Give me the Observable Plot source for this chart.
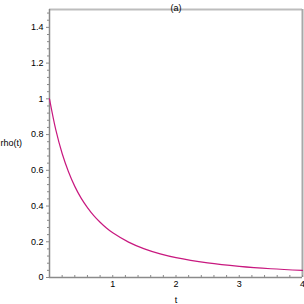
<!DOCTYPE html>
<html>
<head>
<meta charset="utf-8">
<script src="https://cdn.jsdelivr.net/npm/d3@7"></script>
<script src="https://cdn.jsdelivr.net/npm/@observablehq/plot@0.6"></script>
<style>
  html, body { margin: 0; padding: 0; background: #fff; }
  svg { display: block; }
</style>
</head>
<body>
<div id="chart"></div>
<script>
// Values
const tValues   = [0, 0.1, 0.2, 0.3, 0.4, 0.5, 0.6, 0.7, 0.8, 0.9, 1.0, 1.25, 1.5, 1.75, 2.0, 2.5, 3.0, 3.5, 4.0];
const rhoValues = [1.0, 0.826, 0.694, 0.592, 0.51, 0.444, 0.391, 0.346, 0.309, 0.277, 0.25, 0.198, 0.16, 0.132, 0.111, 0.082, 0.0625, 0.049, 0.04];

const xMajorTicks = [1, 2, 3, 4];
const xMinorTicks = [0.2, 0.4, 0.6, 0.8, 1.2, 1.4, 1.6, 1.8, 2.2, 2.4, 2.6, 2.8, 3.2, 3.4, 3.6, 3.8];
const yMajorTicks = [0, 0.2, 0.4, 0.6, 0.8, 1, 1.2, 1.4];
const yMajorLabels = ["0", "0.2", "0.4", "0.6", "0.8", "1", "1.2", "1.4"];
const yMinorTicks = [0.04, 0.08, 0.12, 0.16, 0.24, 0.28, 0.32, 0.36, 0.44, 0.48, 0.52, 0.56, 0.64, 0.68, 0.72, 0.76,
                     0.84, 0.88, 0.92, 0.96, 1.04, 1.08, 1.12, 1.16, 1.24, 1.28, 1.32, 1.36, 1.44, 1.48];

const titleText = "(a)";
const xLabel = "t";
const yLabel = "rho(t)";

const data = tValues.map((t, i) => ({t, rho: rhoValues[i]}));
const curveColor = "#c8187f";

const chart = Plot.plot({
  width: 304,
  height: 304,
  marginLeft: 49,
  marginRight: 2,
  marginTop: 9,
  marginBottom: 27,
  style: {fontFamily: "'Liberation Sans', Arial, sans-serif", fontSize: "9px", color: "#000", background: "#fff"},
  x: {domain: [0, 4]},
  y: {domain: [0, 1.5]},
  marks: [
    // frame: top and right in light gray
    Plot.ruleY([1.5], {stroke: "#bdbdbd", strokeWidth: 2}),
    Plot.ruleX([4], {stroke: "#a8a8a8", strokeWidth: 2}),
    // axis lines
    Plot.ruleY([0], {stroke: "#8a8a8a", strokeWidth: 1.5}),
    Plot.ruleX([0], {stroke: "#8a8a8a", strokeWidth: 1.5}),
    // x axis ticks (inward) and labels
    Plot.axisX({ticks: xMinorTicks, tickSize: 2, text: null, dy: -2, stroke: "#8a8a8a", label: null}),
    Plot.axisX({ticks: xMajorTicks, tickSize: 2, text: null, dy: -2, stroke: "#8a8a8a", label: null}),
    Plot.axisX({ticks: xMajorTicks, tickSize: 0, tickPadding: 3, tickFormat: d => String(d), label: null, fill: "#000"}),
    // y axis ticks (outward) and labels
    Plot.axisY({ticks: yMinorTicks, tickSize: 2, text: null, stroke: "#8a8a8a", label: null}),
    Plot.axisY({ticks: yMajorTicks, tickSize: 3, tickPadding: 3, tickFormat: (d, i) => yMajorLabels[i], stroke: "#8a8a8a", label: null, fill: "#000"}),
    // curve
    Plot.line(data, {x: "t", y: "rho", stroke: curveColor, strokeWidth: 1.2, curve: "catmull-rom"}),
    // labels
    Plot.text([titleText], {frameAnchor: "top", dy: -5, fontSize: 9, fill: "#000"}),
    Plot.text([yLabel], {frameAnchor: "left", textAnchor: "start", dx: -49, fontSize: 9, fill: "#000"}),
    Plot.text([xLabel], {frameAnchor: "bottom", dy: 25, fontSize: 9, fill: "#000"})
  ]
});
document.getElementById("chart").appendChild(chart);
</script>
</body>
</html>
